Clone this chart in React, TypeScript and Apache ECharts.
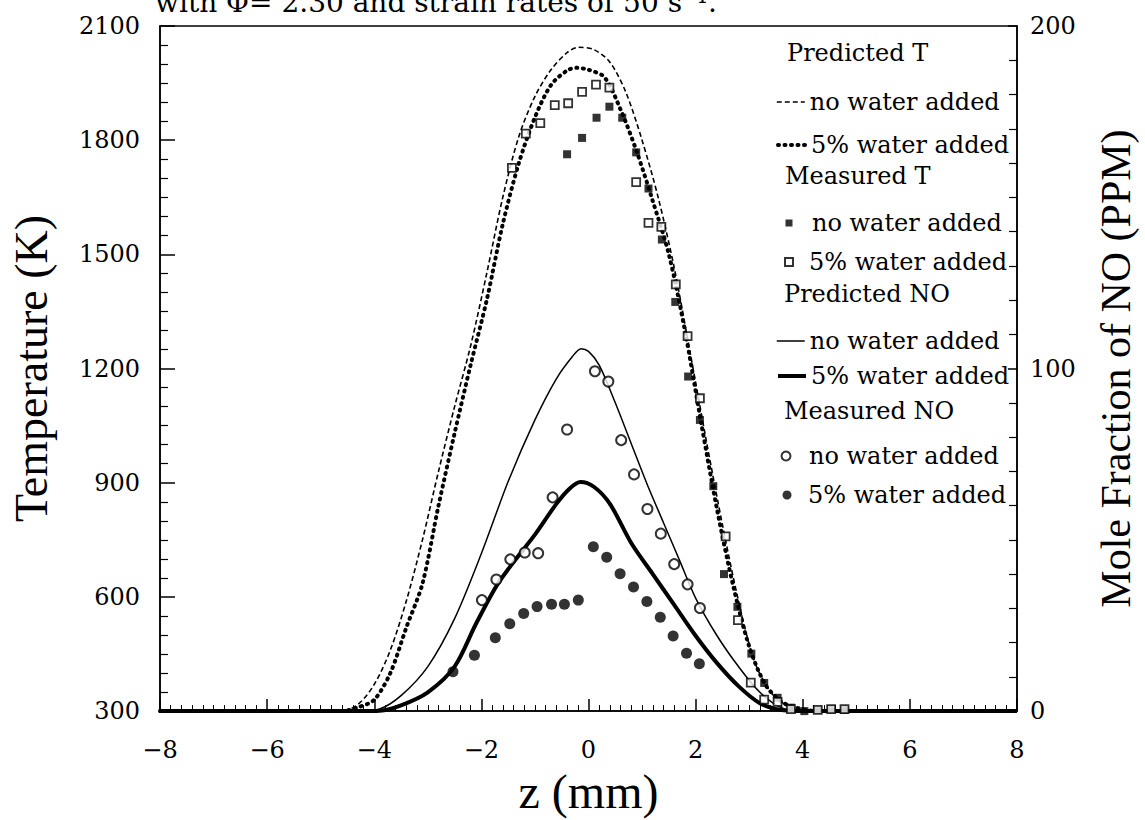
import { useEffect, useRef } from "react";
import * as echarts from "echarts";

// ---- Predicted temperature (left axis, K) ----
const predTNoWaterZ = [-8, -4.6, -4.3, -4.0, -3.7, -3.4, -3.1, -2.8, -2.5, -2.2, -1.9, -1.6, -1.3, -1.0, -0.7, -0.4, -0.19, 0.1, 0.4, 0.7, 1.0, 1.3, 1.6, 1.9, 2.2, 2.5, 2.8, 3.1, 3.4, 3.7, 4.0, 4.5, 8];
const predTNoWaterT = [300, 300, 318, 370, 460, 590, 750, 930, 1100, 1260, 1450, 1650, 1810, 1915, 1985, 2030, 2044, 2038, 2005, 1925, 1800, 1650, 1465, 1240, 1010, 790, 590, 430, 350, 315, 303, 300, 300];

const predT5WaterZ = [-8, -4.6, -4.3, -4.0, -3.7, -3.4, -3.1, -2.8, -2.5, -2.2, -1.9, -1.6, -1.3, -1.0, -0.7, -0.4, -0.22, 0.0, 0.3, 0.6, 0.9, 1.2, 1.5, 1.8, 2.1, 2.4, 2.7, 3.0, 3.3, 3.6, 3.9, 4.3, 8];
const predT5WaterT = [300, 300, 310, 330, 400, 520, 635, 840, 1030, 1210, 1380, 1580, 1740, 1860, 1945, 1983, 1990, 1985, 1965, 1880, 1770, 1640, 1500, 1300, 1060, 830, 630, 470, 370, 325, 308, 300, 300];

// ---- Measured temperature (left axis, K) ----
const measTNoWaterZ = [-0.40, -0.12, 0.15, 0.39, 0.63, 0.89, 1.12, 1.37, 1.62, 1.86, 2.08, 2.33, 2.53, 2.78, 3.04, 3.28, 3.53, 3.78, 4.03, 4.28, 4.53, 4.78];
const measTNoWaterT = [1763, 1806, 1859, 1888, 1859, 1768, 1673, 1539, 1375, 1179, 1065, 891, 660, 574, 451, 374, 335, 309, 300, 303, 305, 303];

const measT5WaterZ = [-1.43, -1.17, -0.90, -0.63, -0.38, -0.12, 0.14, 0.39, 0.89, 1.12, 1.36, 1.63, 1.85, 2.08, 2.56, 2.79, 3.03, 3.28, 3.53, 3.78, 4.0, 4.28, 4.53, 4.78];
const measT5WaterT = [1727, 1817, 1845, 1892, 1897, 1927, 1946, 1938, 1690, 1583, 1572, 1421, 1285, 1122, 759, 539, 375, 330, 324, 305, 298, 303, 305, 305];

// ---- Predicted NO (right axis, ppm) ----
const predNONoWaterZ = [-8, -4.3, -3.9, -3.5, -3.0, -2.5, -2.0, -1.5, -1.0, -0.6, -0.3, -0.14, 0.0, 0.2, 0.5, 0.8, 1.1, 1.4, 1.7, 2.0, 2.4, 2.8, 3.2, 3.6, 4.0, 8];
const predNONoWaterPPM = [0, 0, 0.6, 4.5, 13, 27, 46, 67, 85, 97, 103.5, 105.8, 105, 101, 90, 78, 66, 55, 44, 33, 22, 13, 5.5, 1, 0, 0];

const predNO5WaterZ = [-8, -4.3, -3.9, -3.5, -3.0, -2.5, -2.1, -1.7, -1.3, -1.0, -0.6, -0.35, -0.15, 0.1, 0.4, 0.8, 1.2, 1.6, 2.0, 2.4, 2.8, 3.2, 3.6, 4.0, 8];
const predNO5WaterPPM = [0, 0, 0.1, 1.7, 5.5, 13, 25.5, 37, 45.5, 51.5, 60.5, 65, 66.9, 65.5, 60.5, 49, 40, 31, 22, 14, 7.3, 2.3, 0.3, 0, 0];

// ---- Measured NO (right axis, ppm) ----
const measNONoWaterZ = [-1.99, -1.72, -1.46, -1.19, -0.94, -0.67, -0.40, 0.12, 0.37, 0.61, 0.85, 1.10, 1.35, 1.60, 1.85, 2.08];
const measNONoWaterPPM = [32.4, 38.4, 44.3, 46.3, 46.1, 62.4, 82.2, 99.2, 96.2, 79.1, 69.1, 59.0, 51.8, 42.9, 37.0, 30.1];

const measNO5WaterZ = [-2.53, -2.13, -1.74, -1.47, -1.21, -0.96, -0.69, -0.45, -0.19, 0.09, 0.34, 0.59, 0.84, 1.09, 1.34, 1.58, 1.83, 2.07];
const measNO5WaterPPM = [11.5, 16.3, 21.4, 25.5, 28.5, 30.5, 31.2, 31.2, 32.4, 48.0, 44.9, 40.1, 36.2, 32.0, 27.4, 21.9, 16.9, 13.8];

// ---- Axes ----
const zRange = [-8, 8];
const tempRange = [300, 2100];
const noRange = [0, 200];

const legendHeaders = ["Predicted T", "Measured T", "Predicted NO", "Measured NO"];
const topNote = "with \u03A6= 2.30 and strain rates of 50 s\u207B\u00B9.";

const zip = (a: number[], b: number[]) => a.map((v, i) => [v, b[i]]);

export default function App() {
  const ref = useRef<HTMLDivElement>(null);
  useEffect(() => {
    const chart = echarts.init(ref.current!, null, { renderer: "svg" });
    const serif = "DejaVu Serif";
    const titleFont = "Liberation Serif";
    const black = "#000";
    const legendFont = 24;

    // line legends: icon 776..804, text from ~809
    const lineLegend = (name: string, center: number, width: number) => ({
      show: true,
      left: 776,
      top: center - 13,
      orient: "vertical",
      padding: 0,
      selectedMode: false,
      data: [name],
      itemWidth: 28,
      itemHeight: 14,
      itemGap: 0,
      itemStyle: { opacity: 0 },
      lineStyle: { opacity: 1, width },
      formatter: (n: string) => n.replace(/^.*?, /, ""),
      textStyle: { fontFamily: serif, fontSize: legendFont, color: black, lineHeight: 26 },
    });
    // marker legends: small symbol, text pushed to ~808
    const markerLegend = (name: string, center: number, symbolCenter: number, size: number, textLeft: number) => ({
      show: true,
      left: symbolCenter - size / 2,
      top: center - 13,
      orient: "vertical",
      padding: 0,
      selectedMode: false,
      data: [name],
      itemWidth: size,
      itemHeight: size,
      itemGap: 0,
      formatter: (n: string) => n.replace(/^.*?, /, ""),
      textStyle: {
        fontFamily: serif,
        fontSize: legendFont,
        color: black,
        lineHeight: 26,
        padding: [0, 0, 0, textLeft - (symbolCenter + size / 2) - 5],
      },
    });

    const headerText = (text: string, x: number, y: number) => ({
      type: "text",
      x,
      y,
      style: { text, fontFamily: serif, fontSize: legendFont, fill: black, verticalAlign: "middle" },
    });

    chart.setOption({
      animation: false,
      backgroundColor: "#fff",
      grid: { left: 160, right: 124, top: 26, bottom: 98, show: true, borderColor: black, borderWidth: 1.5 },
      xAxis: {
        type: "value",
        min: zRange[0],
        max: zRange[1],
        interval: 2,
        name: "z (mm)",
        nameLocation: "middle",
        nameGap: 54,
        nameTextStyle: { fontFamily: titleFont, fontSize: 48, color: black },
        axisLine: { onZero: false, lineStyle: { color: black, width: 1.5 } },
        axisTick: { inside: true, length: 12, lineStyle: { color: black, width: 1.5 } },
        minorTick: { show: true, splitNumber: 10, length: 6, lineStyle: { color: black, width: 1 } },
        splitLine: { show: false },
        axisLabel: {
          fontFamily: serif,
          fontSize: 24,
          color: black,
          margin: 27,
          formatter: (v: number) => (v < 0 ? "\u2212" + Math.abs(v) : String(v)),
        },
      },
      yAxis: [
        {
          type: "value",
          min: tempRange[0],
          max: tempRange[1],
          interval: 300,
          position: "left",
          name: "Temperature (K)",
          nameLocation: "middle",
          nameGap: 106,
          nameRotate: 90,
          nameTextStyle: { fontFamily: titleFont, fontSize: 46, color: black },
          axisLine: { show: true, onZero: false, lineStyle: { color: black, width: 1.5 } },
          axisTick: { inside: true, length: 15, lineStyle: { color: black, width: 1.5 } },
          minorTick: { show: true, splitNumber: 6, length: 8, lineStyle: { color: black, width: 1.2 } },
          splitLine: { show: false },
          axisLabel: { fontFamily: serif, fontSize: 24, color: black, margin: 20, formatter: (v: number) => String(v) },
        },
        {
          type: "value",
          min: noRange[0],
          max: noRange[1],
          interval: 100,
          position: "right",
          name: "Mole Fraction of NO (PPM)",
          nameLocation: "middle",
          nameGap: 78,
          nameRotate: 90,
          nameTextStyle: { fontFamily: titleFont, fontSize: 42, color: black },
          axisLine: { show: true, onZero: false, lineStyle: { color: black, width: 1.5 } },
          axisTick: { inside: true, length: 9, lineStyle: { color: black, width: 1.5 } },
          minorTick: { show: true, splitNumber: 10, length: 8, lineStyle: { color: black, width: 1.2 } },
          splitLine: { show: false },
          axisLabel: { fontFamily: serif, fontSize: 24, color: black, margin: 13, formatter: (v: number) => String(v) },
        },
      ],
      legend: [
        lineLegend("Predicted T, no water added", 102, 1.6),
        lineLegend("Predicted T, 5% water added", 145, 4),
        markerLegend("Measured T, no water added", 223, 789, 7, 812),
        markerLegend("Measured T, 5% water added", 262, 788, 8, 808),
        lineLegend("Predicted NO, no water added", 341, 1.5),
        lineLegend("Predicted NO, 5% water added", 376, 4),
        markerLegend("Measured NO, no water added", 456, 785, 9, 808),
        markerLegend("Measured NO, 5% water added", 495, 787, 9, 808),
      ],
      graphic: [
        headerText(legendHeaders[0], 787, 53),
        headerText(legendHeaders[1], 785, 176),
        headerText(legendHeaders[2], 784, 294),
        headerText(legendHeaders[3], 784, 411),
        {
          type: "text",
          x: 155,
          y: 16,
          style: { text: topNote, fontFamily: serif, fontSize: 28, fill: black, verticalAlign: "bottom" },
        },
      ],
      series: [
        {
          name: "Predicted T, no water added",
          type: "line",
          yAxisIndex: 0,
          data: zip(predTNoWaterZ, predTNoWaterT),
          symbol: "none",
          smooth: 0.3,
          lineStyle: { color: black, width: 1.6, type: [5, 3] },
          itemStyle: { color: black },
          z: 2,
        },
        {
          name: "Predicted T, 5% water added",
          type: "line",
          yAxisIndex: 0,
          data: zip(predT5WaterZ, predT5WaterT),
          symbol: "none",
          smooth: 0.3,
          lineStyle: { color: black, width: 4, type: [1, 5.5], cap: "round" },
          itemStyle: { color: black },
          z: 2,
        },
        {
          name: "Measured T, no water added",
          type: "scatter",
          yAxisIndex: 0,
          data: zip(measTNoWaterZ, measTNoWaterT),
          symbol: "rect",
          symbolSize: 8,
          itemStyle: { color: black },
          z: 4,
        },
        {
          name: "Measured T, 5% water added",
          type: "scatter",
          yAxisIndex: 0,
          data: zip(measT5WaterZ, measT5WaterT),
          symbol: "rect",
          symbolSize: 8,
          itemStyle: { color: "#fff", borderColor: black, borderWidth: 1.8 },
          z: 4,
        },
        {
          name: "Predicted NO, no water added",
          type: "line",
          yAxisIndex: 1,
          data: zip(predNONoWaterZ, predNONoWaterPPM),
          symbol: "none",
          smooth: 0.3,
          lineStyle: { color: black, width: 1.5 },
          itemStyle: { color: black },
          z: 2,
        },
        {
          name: "Predicted NO, 5% water added",
          type: "line",
          yAxisIndex: 1,
          data: zip(predNO5WaterZ, predNO5WaterPPM),
          symbol: "none",
          smooth: 0.3,
          lineStyle: { color: black, width: 4 },
          itemStyle: { color: black },
          z: 2,
        },
        {
          name: "Measured NO, no water added",
          type: "scatter",
          yAxisIndex: 1,
          data: zip(measNONoWaterZ, measNONoWaterPPM),
          symbol: "circle",
          symbolSize: 10,
          itemStyle: { color: "#fff", borderColor: black, borderWidth: 2 },
          z: 4,
        },
        {
          name: "Measured NO, 5% water added",
          type: "scatter",
          yAxisIndex: 1,
          data: zip(measNO5WaterZ, measNO5WaterPPM),
          symbol: "circle",
          symbolSize: 11,
          itemStyle: { color: black },
          z: 4,
        },
      ],
    });
    return () => chart.dispose();
  }, []);
  return (
    <div
      ref={ref}
      style={{ position: "fixed", left: 0, top: 0, width: 1145, height: 820, background: "#fff" }}
    />
  );
}
